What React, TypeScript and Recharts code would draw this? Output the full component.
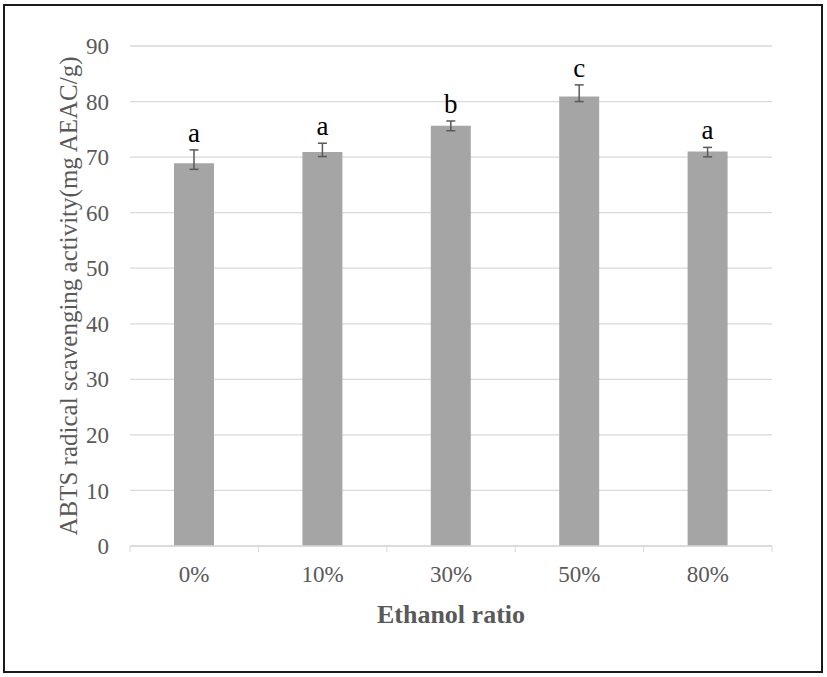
import { Bar, BarChart, CartesianGrid, ErrorBar, LabelList, XAxis, YAxis } from "recharts";

const ratios = ["0%", "10%", "30%", "50%", "80%"];
const activity = [68.9, 70.9, 75.65, 80.9, 71.0];
const errUp = [2.4, 1.6, 0.85, 2.1, 0.75];
const errDown = [1.1, 0.8, 0.9, 0.9, 0.95];
const groups = ["a", "a", "b", "c", "a"];
const yTicks = [0, 10, 20, 30, 40, 50, 60, 70, 80, 90];

const FONT = "'Liberation Serif', 'Times New Roman', serif";
const AXIS_GREY = "#595959";
const GRID = "#d9d9d9";

const data = ratios.map((ratio, i) => ({
  ratio,
  value: activity[i],
  err: [errDown[i], errUp[i]],
  group: groups[i],
}));

function CategoryTick(props: any) {
  const { x, y, payload, index } = props;
  const half = payload.offset ?? 0;
  const last = index === ratios.length - 1;
  return (
    <g>
      <line x1={x - half} x2={x - half} y1={y - 8} y2={y - 2} stroke={GRID} strokeWidth={1} />
      {last && <line x1={x + half} x2={x + half} y1={y - 8} y2={y - 2} stroke={GRID} strokeWidth={1} />}
      <text x={x} y={y + 28} textAnchor="middle" fontFamily={FONT} fontSize={23} fill={AXIS_GREY}>
        {payload.value}
      </text>
    </g>
  );
}

function GroupLabel(props: any) {
  const { x, y, width, height, index } = props;
  const perUnit = height / activity[index];
  const top = y - errUp[index] * perUnit;
  return (
    <text x={x + width / 2} y={top - 8} textAnchor="middle" fontFamily={FONT} fontSize={27} fill="#000">
      {groups[index]}
    </text>
  );
}

export default function App() {
  return (
    <div style={{ position: "absolute", left: 0, top: 0, width: 827, height: 677, background: "#fff" }}>
      <div
        style={{
          position: "absolute",
          left: 3,
          top: 4,
          width: 820,
          height: 669,
          border: "2px solid #1a1a1a",
          boxSizing: "border-box",
        }}
      />
      <BarChart
        width={827}
        height={677}
        data={data}
        margin={{ top: 46, right: 55, bottom: 0, left: 0 }}
        barCategoryGap={0}
      >
        <CartesianGrid vertical={false} stroke={GRID} strokeWidth={1.3} />
        <XAxis
          dataKey="ratio"
          height={131}
          axisLine={{ stroke: GRID, strokeWidth: 1.3 }}
          tickLine={false}
          tickSize={8}
          tickMargin={0}
          interval={0}
          tick={<CategoryTick />}
          label={({ viewBox }: any) => (
            <text
              x={viewBox.x + viewBox.width / 2}
              y={viewBox.y + 77}
              textAnchor="middle"
              fontFamily={FONT}
              fontSize={26}
              fontWeight="bold"
              fill={AXIS_GREY}
            >
              Ethanol ratio
            </text>
          )}
        />
        <YAxis
          width={130}
          domain={[0, 90]}
          ticks={yTicks}
          interval={0}
          axisLine={false}
          tickLine={false}
          tickSize={0}
          tickMargin={21}
          tick={{ fontFamily: FONT, fontSize: 23, fill: AXIS_GREY }}
          label={({ viewBox }: any) => {
            const cx = 77;
            const cy = viewBox.y + viewBox.height / 2;
            return (
              <text
                x={cx}
                y={cy}
                transform={`rotate(-90 ${cx} ${cy})`}
                textAnchor="middle"
                fontFamily={FONT}
                fontSize={25}
                fill={AXIS_GREY}
              >
                ABTS radical scavenging activity(mg AEAC/g)
              </text>
            );
          }}
        />
        <Bar dataKey="value" fill="#a5a5a5" barSize={40} isAnimationActive={false}>
          <ErrorBar dataKey="err" width={4.5} stroke="#595959" strokeWidth={1.5} direction="y" />
          <LabelList dataKey="group" content={<GroupLabel />} />
        </Bar>
      </BarChart>
    </div>
  );
}
